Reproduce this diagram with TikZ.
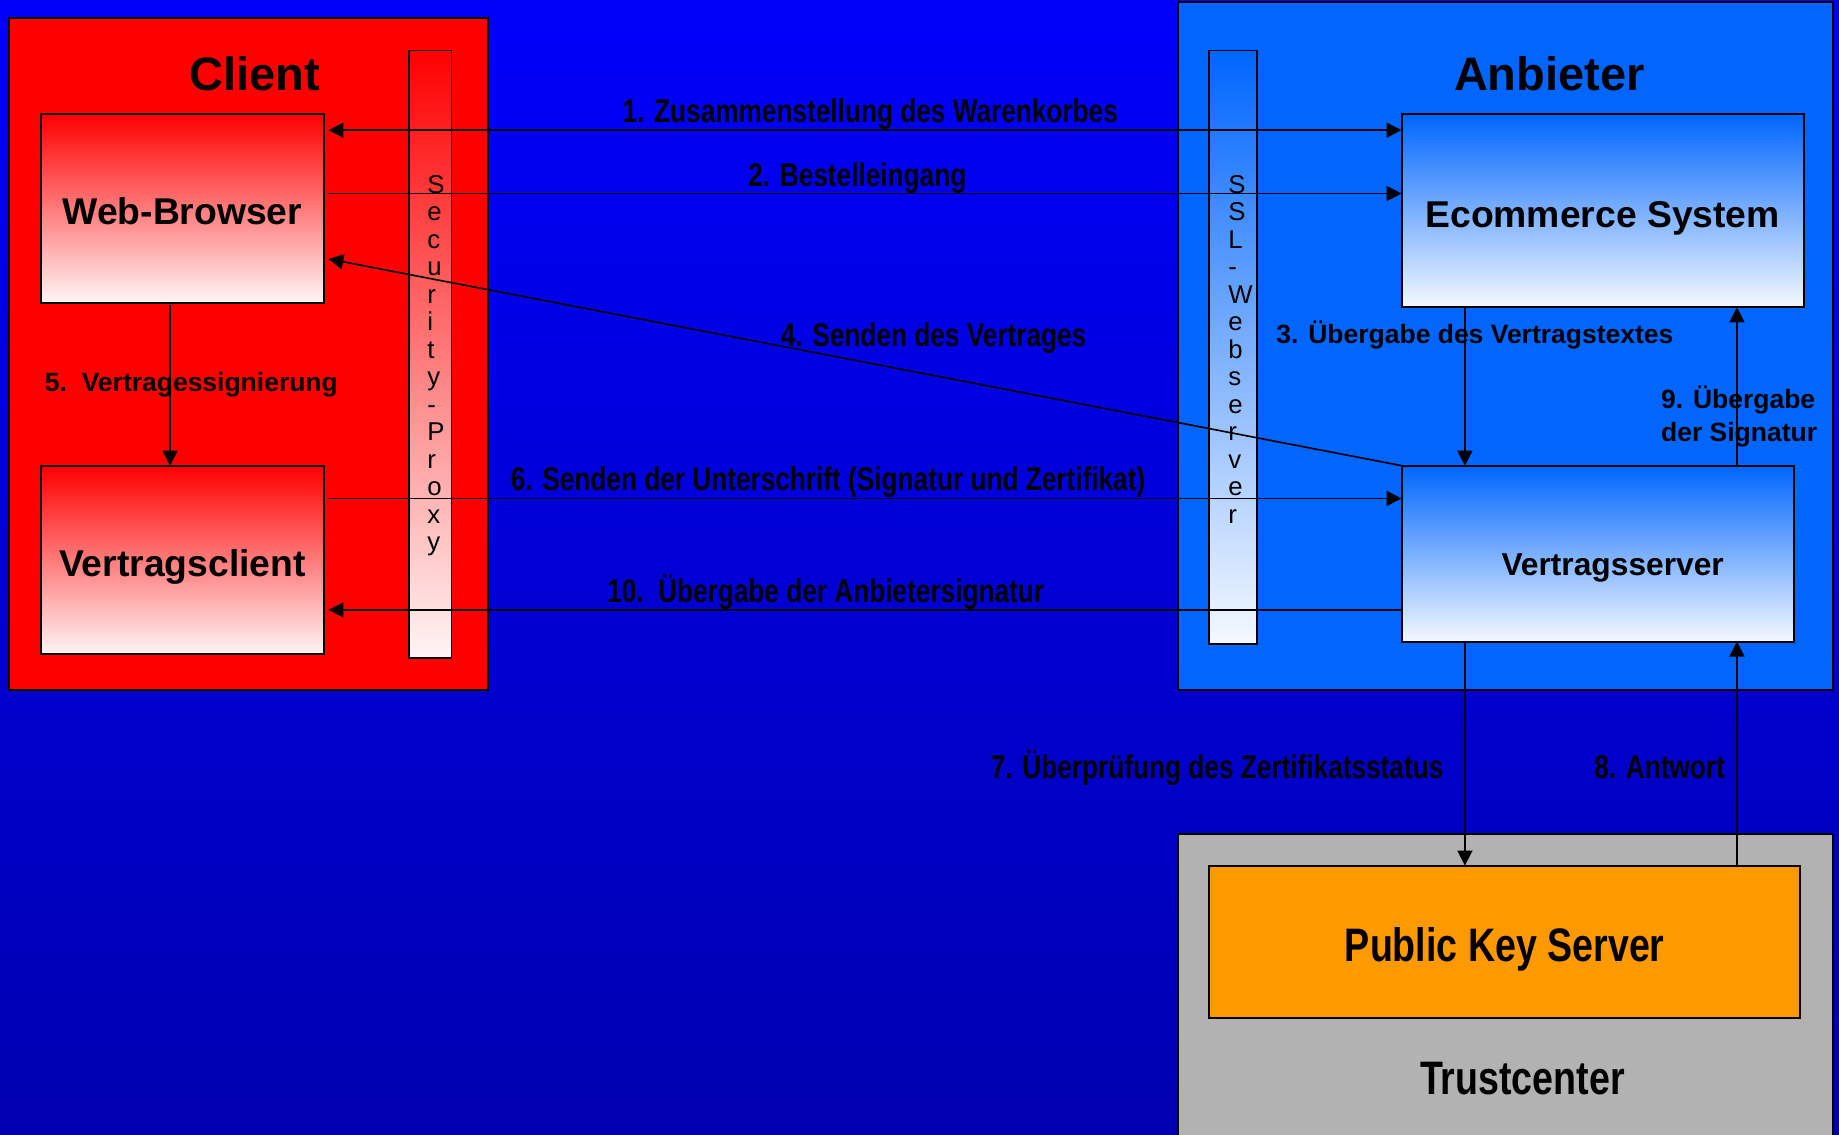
\documentclass[tikz,border=0pt]{standalone}
\usepackage{fontspec}
\setmainfont{Liberation Sans}
\newfontfamily\narbf{Liberation Sans Bold}[FakeStretch=0.8]
\usetikzlibrary{arrows.meta}
\definecolor{bgtop}{RGB}{0,0,250}
\definecolor{bgbot}{RGB}{0,0,176}
\definecolor{clientred}{RGB}{255,0,0}
\definecolor{anbblue}{RGB}{0,102,255}
\definecolor{trustgray}{RGB}{178,178,178}
\definecolor{pkorange}{RGB}{255,153,0}
\tikzset{
  area/.style={draw=black,line width=1pt,inner sep=0pt,outer sep=0pt},
  redbox/.style={area,top color=clientred,bottom color=white!96!red},
  bluebox/.style={area,top color=anbblue,bottom color=white!96!anbblue},
  titlefont/.style={font=\bfseries\fontsize{22.8pt}{26pt}\selectfont},
  boxfont/.style={font=\bfseries\fontsize{18.1pt}{21pt}\selectfont,text height=16.3pt,text depth=0pt},
  bignarrow/.style={font=\narbf\fontsize{22.8pt}{26pt}\selectfont,text height=18.7pt,text depth=0pt},
  lbln/.style={font=\narbf\fontsize{15.9pt}{18pt}\selectfont,inner sep=0pt,text height=11.8pt,text depth=0pt},
  lblw/.style={font=\bfseries\fontsize{12.85pt}{15.6pt}\selectfont,inner sep=0pt},
  vert/.style={font=\fontsize{12.5pt}{13.35pt}\selectfont,align=left,inner sep=0pt,anchor=north west},
  tip/.tip={Triangle[length=7.3pt,width=7.3pt]},
  conn/.style={line width=0.8pt,-tip},
  conn2/.style={line width=0.8pt,tip-tip},
}
\begin{document}
\begin{tikzpicture}[x=0.02cm,y=-0.02cm]
\useasboundingbox (0,0) rectangle (1568,967);
\clip (0,0) rectangle (1568,967);
\shade[top color=bgtop,bottom color=bgbot] (0,0) rectangle (1568,967);

% containers
\node[area,fill=clientred,minimum width=8.16cm,minimum height=11.46cm] (client) at (212,301.5) {};
\node[area,fill=anbblue,minimum width=11.18cm,minimum height=11.72cm] (anb) at (1283.5,295) {};
\node[area,fill=trustgray,minimum width=11.18cm,minimum height=5.58cm] (trust) at (1283.5,850.5) {};

\node[titlefont] (clienttitle) at (217,63) {Client};
\node[titlefont] (anbtitle) at (1321,63) {Anbieter};
\node[bignarrow] (trusttitle) at (1298,917) {Trustcenter};

% bars
\node[redbox,line width=0.9pt,minimum width=0.72cm,minimum height=10.36cm] (secbar) at (367,302) {};
\node[bluebox,line width=0.9pt,minimum width=0.82cm,minimum height=10.12cm] (sslbar) at (1051.5,296) {};

% inner boxes
\node[redbox,boxfont,minimum width=4.82cm,minimum height=3.22cm] (wb) at (155.5,177.5) {Web-Browser};
\node[redbox,boxfont,minimum width=4.82cm,minimum height=3.22cm] (vc) at (155.5,477.5) {Vertragsclient};
\node[bluebox,boxfont,minimum width=6.86cm,minimum height=3.30cm] (es) at (1366.5,179.5) {Ecommerce System};
\node[bluebox,minimum width=6.70cm,minimum height=3.00cm] (vs) at (1362.5,472) {};
\node[font=\bfseries\fontsize{15.4pt}{18pt}\selectfont,text height=13.1pt,text depth=0pt] (vstext) at (1375,479) {Vertragsserver};
\node[area,fill=pkorange,bignarrow,minimum width=10.08cm,minimum height=2.60cm] (pk) at (1283,803) {Public Key Server};

% connectors
\draw[conn2,shorten <=2.3pt] (wb.east |- 0,111) -- (es.west |- 0,111);
\draw[conn,shorten <=2.3pt] (wb.east |- 0,165) -- (es.west |- 0,165);
\draw[conn,shorten >=2.3pt] (vs.north west) -- (wb.east |- 0,220);
\draw[conn] (es.south -| 1249,0) -- (vs.north -| 1249,0);
\draw[conn] (vs.north -| 1481,0) -- (es.south -| 1481,0);
\draw[conn,shorten <=2.3pt] (vc.east |- 0,425) -- (vs.west |- 0,425);
\draw[conn,shorten >=2.3pt] (vs.west |- 0,520) -- (vc.east |- 0,520);
\draw[conn,shorten <=1.2pt] (wb.south -| 145,0) -- (vc.north -| 145,0);
\draw[conn] (vs.south -| 1249,0) -- (pk.north -| 1249,0);
\draw[conn] (pk.north -| 1481,0) -- (vs.south -| 1481,0);

% vertical texts
\node[vert] (sectext) at (364,149) {S\\e\\c\\u\\r\\i\\t\\y\\-\\P\\r\\o\\x\\y};
\node[vert] (ssltext) at (1047,149) {S\\S\\L\\-\\W\\e\\b\\s\\e\\r\\v\\e\\r};

% labels
\node[lbln] (l1) at (742,94) {1. Zusammenstellung des Warenkorbes};
\node[lbln] (l2) at (731,149) {2. Bestelleingang};
\node[lblw,anchor=west] (l3) at (1088,286) {3. Übergabe des Vertragstextes};
\node[lbln] (l4) at (796,285) {4. Senden des Vertrages};
\node[lblw,anchor=west] (l5) at (38,328) {5.\ \ Vertragessignierung};
\node[lbln] (l6) at (706,408) {6. Senden der Unterschrift (Signatur und Zertifikat)};
\node[lbln,anchor=east] (l7) at (1231,653) {7. Überprüfung des Zertifikatsstatus};
\node[lbln,anchor=east] (l8) at (1471,653) {8. Antwort};
\node[lblw,align=left,anchor=north west] (l9) at (1416,329) {9. Übergabe\\der Signatur};
\node[lbln] (l10) at (704,503) {10.\ \ Übergabe der Anbietersignatur};
\end{tikzpicture}
\end{document}
